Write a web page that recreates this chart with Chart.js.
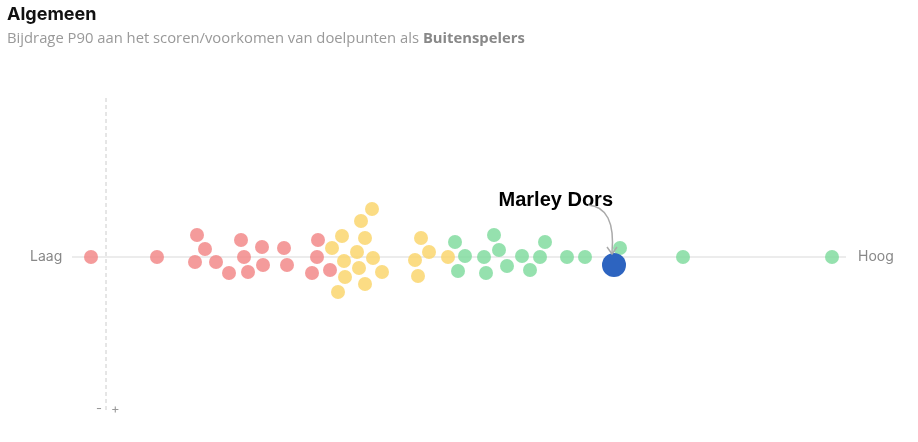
<!DOCTYPE html><html><head><meta charset="utf-8">
<script src="https://cdn.jsdelivr.net/npm/chart.js@4"></script>
<style>
body{margin:0;background:#fff;font-family:Inter,"Noto Sans",sans-serif;}
#wrap{position:relative;width:918px;height:442px;}
#t{position:absolute;left:7px;top:3px;font-size:18px;font-weight:700;color:#111;}
#s{position:absolute;left:7px;top:27px;font-size:14.8px;color:#999;font-family:"Open Sans",sans-serif;}
#s b{color:#888;}
</style></head><body>
<div id="wrap"><canvas id="c" width="918" height="442"></canvas>
<div id="t">Algemeen</div><div id="s">Bijdrage P90 aan het scoren/voorkomen van doelpunten als <b>Buitenspelers</b></div></div>
<script>
const redX=[91,157,197,205,195,216,229,241,244,248,262,263,284,287,318,317,312,330];
const redY=[0,0,22,8,-5,-5,-16,17,0,-15,10,-8,9,-8,17,0,-16,-13];
const yelX=[332,342,361,372,365,357,344,373,359,345,382,365,338,415,421,429,418,448];
const yelY=[9,21,36,48,19,5,-4,-1,-11,-20,-15,-27,-35,-3,19,5,-19,0];
const grnX=[455,465,458,484,486,494,499,507,522,530,540,545,567,585,620,683,832];
const grnY=[15,1,-14,0,-16,22,7,-9,1,-13,0,15,0,0,9,0,0];
const player={name:"Marley Dors",x:614,y:-8};
const toPts=(xs,ys)=>xs.map((x,i)=>({x,y:ys[i]}));
const deco={id:'deco',beforeDatasetsDraw(ch){const {ctx,scales:{x,y}}=ch;ctx.save();
 ctx.strokeStyle='#ececec';ctx.lineWidth=2;ctx.beginPath();ctx.moveTo(x.getPixelForValue(72),y.getPixelForValue(0));ctx.lineTo(x.getPixelForValue(846),y.getPixelForValue(0));ctx.stroke();
 ctx.strokeStyle='#ccc';ctx.lineWidth=1;ctx.setLineDash([4,3]);ctx.beginPath();ctx.moveTo(x.getPixelForValue(106),y.getPixelForValue(159));ctx.lineTo(x.getPixelForValue(106),y.getPixelForValue(-155));ctx.stroke();ctx.setLineDash([]);
 ctx.fillStyle='#888';ctx.font='14px Inter, sans-serif';ctx.textBaseline='middle';
 ctx.textAlign='left';ctx.fillText('Laag',30,y.getPixelForValue(0));ctx.fillText('Hoog',858,y.getPixelForValue(0));
 ctx.font='13px Inter, sans-serif';ctx.fillStyle='#999';ctx.fillText('-',96,y.getPixelForValue(-152));ctx.fillText('+',111,y.getPixelForValue(-152));
 ctx.restore();},
 afterDatasetsDraw(ch){const {ctx,scales:{x,y}}=ch;ctx.save();
 const px=x.getPixelForValue(player.x),py=y.getPixelForValue(player.y);
 ctx.fillStyle='#000';ctx.font='bold 20px Arial, "Liberation Sans", sans-serif';ctx.textAlign='right';ctx.textBaseline='middle';
 ctx.fillText(player.name,px-1,py-65);
 ctx.strokeStyle='#aaa';ctx.lineWidth=1.5;ctx.beginPath();ctx.moveTo(px-26,py-60);ctx.quadraticCurveTo(px+2,py-58,px-2,py-12);ctx.stroke();
 ctx.beginPath();ctx.moveTo(px-7,py-18);ctx.lineTo(px-2,py-11);ctx.lineTo(px+3,py-18);ctx.stroke();
 ctx.restore();}};
new Chart(document.getElementById('c'),{type:'scatter',
 data:{datasets:[
  {data:[{x:player.x,y:player.y}],backgroundColor:'#2d64c0',borderWidth:0,pointRadius:12,pointHoverRadius:12},
  {data:toPts(redX,redY),backgroundColor:'rgba(242,138,138,0.85)',borderWidth:0,pointRadius:7},
  {data:toPts(yelX,yelY),backgroundColor:'rgba(250,214,110,0.85)',borderWidth:0,pointRadius:7},
  {data:toPts(grnX,grnY),backgroundColor:'rgba(130,220,160,0.85)',borderWidth:0,pointRadius:7}]},
 options:{responsive:false,animation:false,layout:{padding:0,autoPadding:false},
  plugins:{legend:{display:false},tooltip:{enabled:false}},
  scales:{x:{type:'linear',min:0,max:918,display:false},y:{type:'linear',min:-185,max:257,display:false}}},
 plugins:[deco]});
</script></body></html>
